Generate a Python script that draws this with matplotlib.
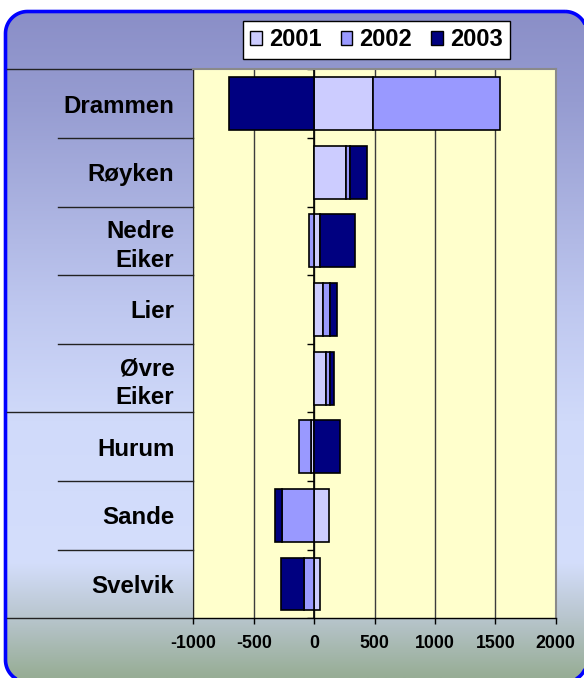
import numpy as np
import matplotlib
matplotlib.use('Agg')
import matplotlib.pyplot as plt
from matplotlib.patches import Polygon, Patch
from matplotlib.colors import LinearSegmentedColormap
import matplotlib.transforms as mtransforms

categories = ['Drammen', 'Røyken', 'Nedre\nEiker', 'Lier', 'Øvre\nEiker', 'Hurum', 'Sande', 'Svelvik']
series = ['2001', '2002', '2003']
v2001 = [486, 262, 47, 75, 99, -28, 127, 50]
v2002 = [1050, 33, -41, 58, 33, -99, -262, -86]
v2003 = [-701, 144, 293, 55, 30, 215, -64, -191]
colors = ['#CCCCFF', '#9999FF', '#000080']
xticks = [-1000, -500, 0, 500, 1000, 1500, 2000]

plt.rcParams['font.family'] = ['Liberation Sans', 'DejaVu Sans']
plt.rcParams['font.weight'] = 'bold'

W, H = 584, 678
fig = plt.figure(figsize=(W / 100, H / 100), dpi=100, facecolor='white')

# background with gradient and rounded blue border (pixel coords, y down)
bg = fig.add_axes([0, 0, 1, 1], zorder=-10)
cmap = LinearSegmentedColormap.from_list('bg', [
    (0.0, '#898DC6'), (0.15, '#969CD1'), (0.45, '#BEC7EF'), (0.62, '#D0DAFA'),
    (0.83, '#D4DEFC'), (0.91, '#B9C6CF'), (1.0, '#97AD95')])
grad = np.linspace(0, 1, 256)[:, None]
im = bg.imshow(grad, aspect='auto', extent=[0, W, H, 0], origin='upper', cmap=cmap,
               interpolation='bilinear')
bg.set_xlim(0, W)
bg.set_ylim(H, 0)
bg.axis('off')


def rounded_rect(x0, y0, x1, y1, r, k=24):
    pts = []
    for cx, cy, a0 in [(x1 - r, y0 + r, -90), (x1 - r, y1 - r, 0), (x0 + r, y1 - r, 90),
                       (x0 + r, y0 + r, 180)]:
        t = np.radians(np.linspace(a0, a0 + 90, k))
        pts.append(np.column_stack([cx + r * np.cos(t), cy + r * np.sin(t)]))
    return np.vstack(pts)


box = Polygon(rounded_rect(5.5, 11.5, 587, 682, 22), closed=True, transform=bg.transData,
              facecolor='none', edgecolor='#0000FF', lw=2.6)
bg.add_patch(box)
im.set_clip_path(box)

# main axes
L, R, T, B = 193.3, 555.7, 69.3, 618.3
ax = fig.add_axes([L / W, 1 - B / H, (R - L) / W, (B - T) / H])
ax.set_facecolor('#FFFFCC')

n = len(categories)
y = np.arange(n)
pos = np.zeros(n)
neg = np.zeros(n)
for vals, col, name in zip([v2001, v2002, v2003], colors, series):
    vals = np.array(vals, float)
    left = np.where(vals >= 0, pos, neg)
    ax.barh(y, vals, left=left, height=0.77, color=col, edgecolor='black', lw=1.2,
            label=name, zorder=3)
    pos += np.where(vals >= 0, vals, 0)
    neg += np.where(vals < 0, vals, 0)

ax.set_xlim(-1000, 2000)
ax.set_ylim(n - 0.5, -0.5)
ax.set_xticks(xticks)
ax.set_xticklabels([str(t) for t in xticks], fontsize=12.8, fontweight='bold')
ax.set_yticks(y)
ax.set_yticklabels(categories, fontsize=17.3, fontweight='bold', linespacing=1.3)
ax.tick_params(axis='y', length=0, pad=13.7)
ax.tick_params(axis='x', length=4.3, width=1, pad=7.5, direction='out')
ax.grid(axis='x', color='#3c3c3c', lw=1)
ax.set_axisbelow(True)
for s in ('top', 'right'):
    ax.spines[s].set_color('#8a8a8a')
    ax.spines[s].set_linewidth(1.5)
ax.spines['left'].set_color('#222222')
ax.spines['left'].set_linewidth(0.8)
ax.spines['bottom'].set_color('black')
ax.spines['bottom'].set_linewidth(1)

# value axis at zero with small ticks
ax.axvline(0, color='black', lw=1.2, zorder=2.5)
bounds = np.arange(n + 1) - 0.5
ax.hlines(bounds, -58, 0, color='black', lw=1, zorder=2.5)

# category separators in label area
trans = mtransforms.blended_transform_factory(fig.transFigure, ax.transData)
for i, b in enumerate(bounds):
    x0 = 7 / W if i in (0, 5, n) else 58 / W
    ax.plot([x0, L / W], [b, b], transform=trans, color='#222222', lw=1, clip_on=False)

handles = [Patch(facecolor=c, edgecolor='black', lw=1, label=s) for c, s in zip(colors, series)]
leg = fig.legend(handles=handles, loc='center', bbox_to_anchor=(376.5 / W, 1 - 40 / H), ncol=3,
                 prop={'weight': 'bold', 'size': 17}, frameon=True, fancybox=False,
                 edgecolor='black', framealpha=1, handlelength=0.5, handleheight=0.5,
                 handletextpad=0.3, columnspacing=0.8, borderpad=0.3)
leg.get_frame().set_linewidth(1)

fig.savefig('out.png', dpi=100, facecolor='white')
